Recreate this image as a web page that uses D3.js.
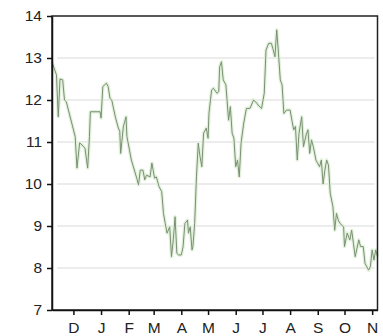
<!DOCTYPE html>
<html>
<head>
<meta charset="utf-8">
<script src="https://cdn.jsdelivr.net/npm/d3@7"></script>
<style>
    body { margin: 0; background: #fff; }
    .axis text { font-family: "Liberation Sans", Arial, sans-serif; font-size: 15.5px; fill: #222; }
    .axis path, .axis line { stroke: #111; }
</style>
</head>
<body>
<svg class="chart"></svg>
<script>
// values (date, level)
var dates = [
    '2006-11-07', '2006-11-12', '2006-11-14', '2006-11-16', '2006-11-19', '2006-11-21', '2006-11-23',
    '2006-12-03', '2006-12-05', '2006-12-08', '2006-12-12', '2006-12-14', '2006-12-17', '2006-12-19',
    '2006-12-20', '2006-12-31', '2007-01-01', '2007-01-03', '2007-01-07', '2007-01-09', '2007-01-11',
    '2007-01-13', '2007-01-17', '2007-01-20', '2007-01-22', '2007-01-23', '2007-01-26', '2007-01-29',
    '2007-01-30', '2007-02-04', '2007-02-10', '2007-02-12', '2007-02-14', '2007-02-17', '2007-02-19',
    '2007-02-21', '2007-02-25', '2007-02-27', '2007-03-02', '2007-03-04', '2007-03-07', '2007-03-10',
    '2007-03-12', '2007-03-14', '2007-03-16', '2007-03-19', '2007-03-21', '2007-03-23', '2007-03-25',
    '2007-03-27', '2007-03-29', '2007-04-01', '2007-04-03', '2007-04-05', '2007-04-08', '2007-04-09',
    '2007-04-11', '2007-04-13', '2007-04-14', '2007-04-16', '2007-04-18', '2007-04-20', '2007-04-22',
    '2007-04-24', '2007-04-26', '2007-04-29', '2007-05-01', '2007-05-02', '2007-05-05', '2007-05-07',
    '2007-05-11', '2007-05-13', '2007-05-14', '2007-05-16', '2007-05-18', '2007-05-21', '2007-05-24',
    '2007-05-26', '2007-05-28', '2007-05-30', '2007-06-01', '2007-06-03', '2007-06-05', '2007-06-07',
    '2007-06-10', '2007-06-13', '2007-06-17', '2007-06-21', '2007-06-25', '2007-06-26', '2007-06-30',
    '2007-07-03', '2007-07-05', '2007-07-08', '2007-07-11', '2007-07-13', '2007-07-15', '2007-07-17',
    '2007-07-19', '2007-07-21', '2007-07-23', '2007-07-25', '2007-07-28', '2007-08-01', '2007-08-03',
    '2007-08-05', '2007-08-07', '2007-08-09', '2007-08-11', '2007-08-14', '2007-08-16', '2007-08-19',
    '2007-08-21', '2007-08-23', '2007-08-25', '2007-08-27', '2007-08-30', '2007-09-03', '2007-09-05',
    '2007-09-07', '2007-09-09', '2007-09-11', '2007-09-13', '2007-09-15', '2007-09-18', '2007-09-20',
    '2007-09-22', '2007-09-24', '2007-09-26', '2007-09-30', '2007-10-01', '2007-10-04', '2007-10-07',
    '2007-10-09', '2007-10-11', '2007-10-13', '2007-10-17', '2007-10-19', '2007-10-22', '2007-10-24',
    '2007-10-28', '2007-10-30', '2007-11-01', '2007-11-03', '2007-11-05', '2007-11-07'
];
var values = [
    12.90, 12.60, 11.60, 12.50, 12.48, 12.00, 11.96,
    11.13, 10.38, 10.98, 10.90, 10.85, 10.38, 11.13,
    11.72, 11.72, 11.57, 12.32, 12.40, 12.32, 12.04,
    12.00, 11.60, 11.36, 11.25, 10.73, 11.36, 11.60,
    11.13, 10.57, 10.14, 9.98, 10.33, 10.33, 10.10,
    10.21, 10.17, 10.50, 10.14, 10.17, 9.94, 9.82,
    9.30, 9.06, 8.83, 8.98, 8.27, 8.67, 9.22,
    8.35, 8.31, 8.31, 8.51, 9.06, 9.14, 8.83,
    8.98, 8.43, 8.51, 9.06, 10.17, 10.97, 10.65,
    10.41, 11.21, 11.33, 11.09, 11.68, 12.24, 12.28,
    12.16, 12.20, 12.79, 12.91, 12.48, 12.36, 11.52,
    11.84, 11.21, 11.09, 10.41, 10.57, 10.17, 10.97,
    11.45, 11.80, 11.80, 12.00, 11.92, 11.88, 11.80,
    12.16, 13.19, 13.35, 13.35, 13.20, 13.03, 13.67,
    13.10, 12.48, 12.36, 11.68, 11.76, 11.76, 11.52,
    11.29, 11.37, 10.57, 11.21, 11.60, 10.89, 11.17,
    11.29, 10.73, 11.05, 10.89, 10.57, 10.41, 10.57,
    10.00, 10.33, 10.57, 10.45, 9.78, 9.46, 8.90,
    9.30, 9.14, 9.06, 8.98, 8.51, 8.83, 8.67,
    8.90, 8.59, 8.27, 8.67, 8.51, 8.51, 8.11,
    7.95, 8.03, 8.43, 8.19, 8.43, 8.27
];
var yTicks = [7, 8, 9, 10, 11, 12, 13, 14];
var monthLabels = ['D', 'J', 'F', 'M', 'A', 'M', 'J', 'J', 'A', 'S', 'O', 'N'];
var dateStart = '2006-11-07';
var dateEnd = '2007-11-07';

var parseTime = d3.timeParse('%Y-%m-%d');

var data = dates.map(function(d, i) {
    return { date: parseTime(d), value: values[i] };
});

var margin = { top: 16, right: 5.5, bottom: 26, left: 52 },
    width = 383 - margin.left - margin.right,
    height = 336 - margin.top - margin.bottom;

var svg = d3.select('.chart')
    .attr('width', 383)
    .attr('height', 336);

var chart = svg.append('g')
    .attr('transform', 'translate(' + margin.left + ',' + margin.top + ')');

var x = d3.scaleTime()
    .domain([parseTime(dateStart), parseTime(dateEnd)])
    .range([0, width]);

var y = d3.scaleLinear()
    .domain([7, 14])
    .range([height, 0]);

// Gridlines
chart.append('g')
    .selectAll('line')
    .data(yTicks.filter(function(t) { return t > 7 && t < 14; }))
    .enter()
    .append('line')
    .attr('x1', 5)
    .attr('x2', width - 3)
    .attr('y1', function(d) { return y(d); })
    .attr('y2', function(d) { return y(d); })
    .attr('stroke', '#d9d9d9')
    .attr('stroke-width', 1.2);

// Month ticks at the first of each month
var monthTicks = x.ticks(d3.timeMonth.every(1)).filter(function(d) {
    return d > x.domain()[0];
});

var xAxis = d3.axisBottom(x)
    .tickValues(monthTicks)
    .tickSize(5)
    .tickSizeOuter(0)
    .tickPadding(6.5)
    .tickFormat(function(d, i) { return monthLabels[i]; });

var yAxis = d3.axisLeft(y)
    .tickValues(yTicks)
    .tickSize(5)
    .tickSizeOuter(0)
    .tickPadding(5)
    .tickFormat(d3.format('d'));

// Line with a soft green halo under it
var valueline = d3.line()
    .x(function(d) { return x(d.date); })
    .y(function(d) { return y(d.value); });

chart.append('path')
    .datum(data)
    .attr('d', valueline)
    .attr('fill', 'none')
    .attr('stroke', '#e2f1dc')
    .attr('stroke-width', 3.5)
    .attr('stroke-linejoin', 'round');

chart.append('path')
    .datum(data)
    .attr('d', valueline)
    .attr('fill', 'none')
    .attr('stroke', '#7a9072')
    .attr('stroke-width', 1)
    .attr('stroke-linejoin', 'round');

// Frame
chart.append('rect')
    .attr('width', width)
    .attr('height', height)
    .attr('fill', 'none')
    .attr('stroke', '#222')
    .attr('stroke-width', 1.5);

chart.append('g')
    .attr('class', 'x axis')
    .attr('transform', 'translate(0,' + height + ')')
    .call(xAxis);

chart.append('g')
    .attr('class', 'y axis')
    .call(yAxis);

chart.selectAll('.axis line, .axis path').attr('stroke-width', 1.5);
</script>
</body>
</html>
